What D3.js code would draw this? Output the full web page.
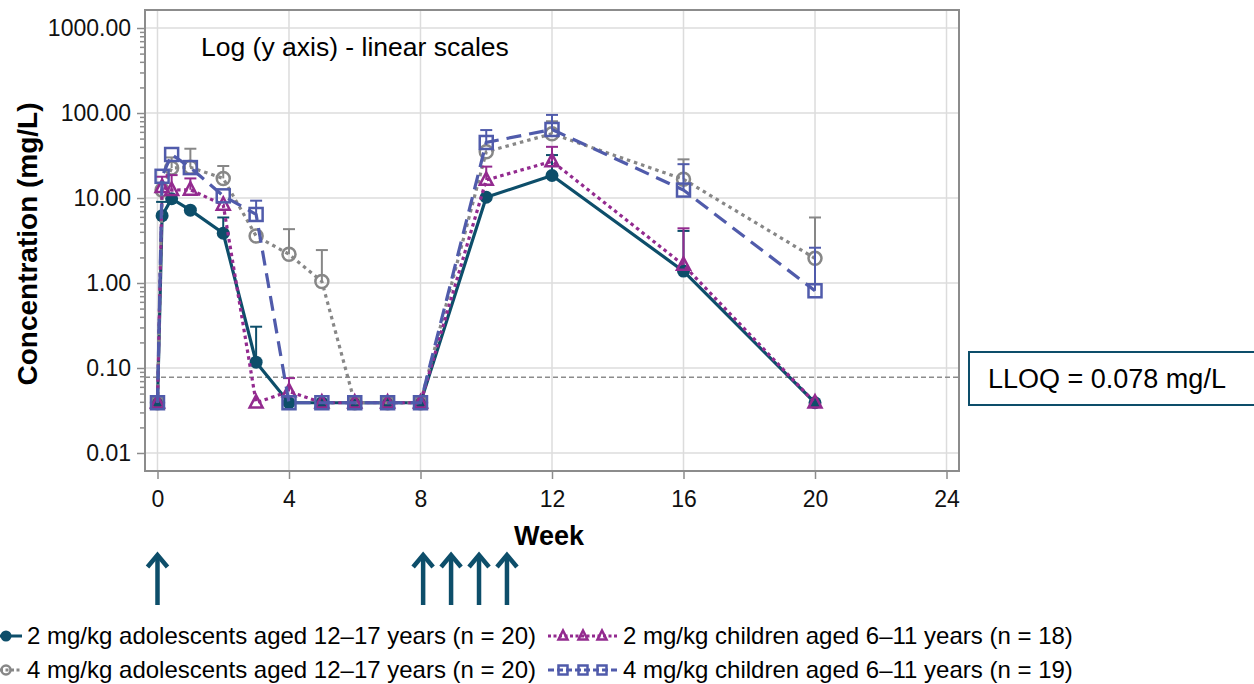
<!DOCTYPE html>
<html>
<head>
<meta charset="utf-8">
<script src="https://cdn.jsdelivr.net/npm/d3@7"></script>
<style>
  body { margin: 0; background: #fff; }
  svg { display: block; font-family: "Liberation Sans", Arial, sans-serif; }
</style>
</head>
<body>
<div class="svgContainer"></div>
<script>
// weeks since first dose
const weeks = [0, 0.14, 0.43, 1, 2, 3, 4, 5, 6, 7, 8, 10, 12, 16, 20];

// mean concentration (mg/L) and top of the error bar, per group
const adol2 = [0.039, 6.2, 9.8, 7.2, 3.85, 0.117, 0.039, 0.039, 0.039, 0.039, 0.039, 10.2, 18.4, 1.38, 0.039];
const adol2Upper = [null, 9.0, null, null, 5.9, 0.306, null, null, null, null, null, null, 32, 4.1, null];

const adol4 = [0.039, 12.4, 22.5, 23, 17, 3.57, 2.18, 1.04, 0.039, 0.039, 0.039, 35, 57, 16.6, 1.95];
const adol4Upper = [null, null, 30, 38, 23.8, null, 4.3, 2.44, null, null, null, null, 80, 28.5, 5.9];

const child2 = [0.039, 13.4, 12.4, 12.5, 8.3, 0.039, 0.053, 0.039, 0.039, 0.039, 0.039, 16.3, 27, 1.63, 0.039];
const child2Upper = [null, 17.8, 18.6, 17, null, null, 0.076, null, null, null, null, 23.4, 40, 4.4, null];

const child4 = [0.039, 18, 32.5, 22.8, 10.6, 6.4, 0.039, 0.039, 0.039, 0.039, 0.039, 45, 64, 12.4, 0.81];
const child4Upper = [null, null, null, null, null, 9.3, null, null, null, null, null, 63, 95, 25, 2.6];

const groupNames = [
    "2 mg/kg adolescents aged 12\u201317 years (n = 20)",
    "4 mg/kg adolescents aged 12\u201317 years (n = 20)",
    "2 mg/kg children aged 6\u201311 years (n = 18)",
    "4 mg/kg children aged 6\u201311 years (n = 19)"
];

const xTicks = [0, 4, 8, 12, 16, 20, 24];
const yTicks = [0.01, 0.1, 1, 10, 100, 1000];
const lloq = 0.078;
const doseWeeks = [0, 8.08, 8.93, 9.78, 10.63];

const width = 1254, height = 684;
const plotLeft = 145, plotRight = 959, plotTop = 10, plotBottom = 471;

const svg = d3.select('.svgContainer')
    .append('svg')
    .attr('width', width)
    .attr('height', height);

const x = d3.scaleLinear().domain([-0.38, 24.38]).range([plotLeft, plotRight]);
const y = d3.scaleLog().domain([Math.pow(10, -2.212), Math.pow(10, 3.212)]).range([plotBottom, plotTop]);

// grid
const grid = svg.append('g').attr('stroke', '#dcdcdc').attr('stroke-width', 1.5);
grid.selectAll('.gx').data(xTicks).enter().append('line')
    .attr('x1', d => x(d)).attr('x2', d => x(d))
    .attr('y1', plotTop).attr('y2', plotBottom);
grid.selectAll('.gy').data(yTicks).enter().append('line')
    .attr('x1', plotLeft).attr('x2', plotRight)
    .attr('y1', d => y(d)).attr('y2', d => y(d));

// LLOQ line
svg.append('line')
    .attr('x1', plotLeft).attr('x2', plotRight)
    .attr('y1', y(lloq)).attr('y2', y(lloq))
    .attr('stroke', '#8c8c8c').attr('stroke-width', 1.5)
    .attr('stroke-dasharray', '5,3');

// axes
const minorTicks = [];
[0.01, 0.1, 1, 10, 100].forEach(dec => {
    for (let k = 2; k <= 9; k++) minorTicks.push(dec * k);
});

const yAxis = svg.append('g')
    .attr('transform', `translate(${plotLeft},0)`)
    .call(d3.axisLeft(y).tickValues(yTicks).tickFormat(d3.format('.2f')).tickSize(8).tickPadding(6));
yAxis.append('g')
    .call(d3.axisLeft(y).tickValues(minorTicks).tickFormat('').tickSize(5));

const xAxis = svg.append('g')
    .attr('transform', `translate(0,${plotBottom})`)
    .call(d3.axisBottom(x).tickValues(xTicks).tickSize(8).tickPadding(12));

[yAxis, xAxis].forEach(a => {
    a.selectAll('.domain').remove();
    a.selectAll('line').attr('stroke', '#8c8c8c').attr('stroke-width', 1.5);
    a.selectAll('text').attr('font-size', 23).attr('fill', '#111')
        .attr('font-family', '"Liberation Sans", Arial, sans-serif');
});

// frame
svg.append('rect')
    .attr('x', plotLeft).attr('y', plotTop)
    .attr('width', plotRight - plotLeft).attr('height', plotBottom - plotTop)
    .attr('fill', 'none').attr('stroke', '#8c8c8c').attr('stroke-width', 2);

// axis titles
svg.append('text')
    .attr('x', 549).attr('y', 545)
    .attr('text-anchor', 'middle')
    .attr('font-size', 27).attr('font-weight', 'bold')
    .text('Week');

svg.append('text')
    .attr('transform', 'translate(37,244) rotate(-90)')
    .attr('text-anchor', 'middle')
    .attr('font-size', 28).attr('font-weight', 'bold')
    .text('Concentration (mg/L)');

svg.append('text')
    .attr('x', 201).attr('y', 56)
    .attr('font-size', 26.5)
    .text('Log (y axis) - linear scales');

// LLOQ box
svg.append('rect')
    .attr('x', 969).attr('y', 352)
    .attr('width', 300).attr('height', 53)
    .attr('fill', '#fff').attr('stroke', '#0d4e6a').attr('stroke-width', 2);
svg.append('text')
    .attr('x', 988).attr('y', 388)
    .attr('font-size', 27)
    .text('LLOQ = 0.078 mg/L');

// series
const series = [
    { name: groupNames[0], values: adol2, upper: adol2Upper, color: '#0d4e6a', dash: null, shape: 'dot' },
    { name: groupNames[1], values: adol4, upper: adol4Upper, color: '#878787', dash: '3.5,4', shape: 'circle' },
    { name: groupNames[2], values: child2, upper: child2Upper, color: '#932a8f', dash: '3.5,3.5', shape: 'triangle' },
    { name: groupNames[3], values: child4, upper: child4Upper, color: '#505bab', dash: '15,8', shape: 'square' }
];

function drawMarker(g, shape, color, s) {
    if (shape === 'dot') {
        g.append('circle').attr('r', s).attr('fill', color);
    } else if (shape === 'circle') {
        g.append('circle').attr('r', s).attr('fill', 'none')
            .attr('stroke', color).attr('stroke-width', 2.5);
    } else if (shape === 'triangle') {
        const h = s * 1.0;
        g.append('path')
            .attr('d', `M0,${-h - 1}L${h},${h * 0.75}L${-h},${h * 0.75}Z`)
            .attr('fill', 'none').attr('stroke', color).attr('stroke-width', 2.5);
    } else {
        g.append('rect').attr('x', -s).attr('y', -s)
            .attr('width', 2 * s).attr('height', 2 * s)
            .attr('fill', 'none').attr('stroke', color).attr('stroke-width', 2.5);
    }
}

const line = d3.line().x(d => x(d.w)).y(d => y(d.v));

series.forEach(s => {
    const pts = weeks.map((w, i) => ({ w: w, v: s.values[i], u: s.upper[i] }));
    const g = svg.append('g');

    g.append('path')
        .datum(pts)
        .attr('d', line)
        .attr('fill', 'none')
        .attr('stroke', s.color)
        .attr('stroke-width', 3.2)
        .attr('stroke-dasharray', s.dash);

    const bars = pts.filter(p => p.u != null);
    g.selectAll('.err').data(bars).enter().append('line')
        .attr('x1', d => x(d.w)).attr('x2', d => x(d.w))
        .attr('y1', d => y(d.v)).attr('y2', d => y(d.u))
        .attr('stroke', s.color).attr('stroke-width', 2);
    g.selectAll('.cap').data(bars).enter().append('line')
        .attr('x1', d => x(d.w) - 6).attr('x2', d => x(d.w) + 6)
        .attr('y1', d => y(d.u)).attr('y2', d => y(d.u))
        .attr('stroke', s.color).attr('stroke-width', 2);

    g.selectAll('.mk').data(pts).enter().append('g')
        .attr('transform', d => `translate(${x(d.w)},${y(d.v)})`)
        .each(function () {
            drawMarker(d3.select(this), s.shape, s.color, 6.5);
        });
});

// dose arrows
const arrows = svg.append('g')
    .attr('stroke', '#0d4e6a').attr('stroke-width', 4.5)
    .attr('fill', 'none').attr('stroke-linecap', 'butt');
doseWeeks.forEach(w => {
    const ax = x(w);
    arrows.append('line').attr('x1', ax).attr('x2', ax).attr('y1', 555).attr('y2', 605);
    arrows.append('path')
        .attr('d', `M${ax - 10},${567}L${ax},${555}L${ax + 10},${567}`)
        .attr('stroke-linejoin', 'miter');
});

// legend
const legendPos = [
    { x0: 0, x1: 22, tx: 27, ty: 644, marks: [6] },
    { x0: 0, x1: 22, tx: 27, ty: 678, marks: [6] },
    { x0: 548, x1: 617, tx: 623, ty: 644, marks: [563, 583, 602] },
    { x0: 548, x1: 617, tx: 623, ty: 678, marks: [563, 583, 602] }
];

series.forEach((s, i) => {
    const p = legendPos[i];
    const cy = p.ty - 8;
    const lg = svg.append('g');
    lg.append('line')
        .attr('x1', p.x0).attr('x2', p.x1)
        .attr('y1', cy).attr('y2', cy)
        .attr('stroke', s.color).attr('stroke-width', 3)
        .attr('stroke-dasharray', s.dash ? (i === 3 ? '6,3' : '3,2.5') : null);
    p.marks.forEach(mx => {
        const m = lg.append('g').attr('transform', `translate(${mx},${cy})`);
        drawMarker(m, s.shape, s.color, i === 0 ? 5.5 : 4.5);
    });
    lg.append('text')
        .attr('x', p.tx).attr('y', p.ty)
        .attr('font-size', 24)
        .text(s.name);
});
</script>
</body>
</html>
